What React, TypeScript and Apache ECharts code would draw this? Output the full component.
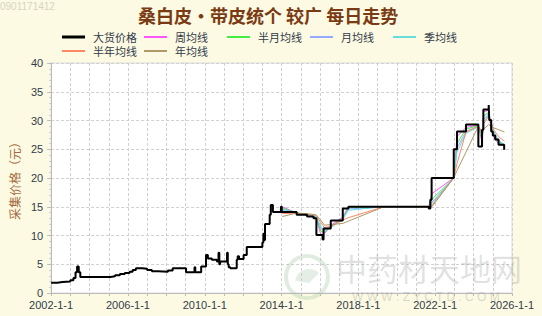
import React, { useEffect, useRef } from 'react';
import * as echarts from 'echarts';

// Spot price (大货价格), drawn as a step line
const priceDates = [
  '2002-01-01', '2002-05-01', '2002-08-01', '2003-01-01', '2003-03-01', '2003-04-10', '2003-05-10',
  '2003-06-10', '2003-07-10', '2005-02-01', '2005-05-01', '2005-08-01', '2005-11-01', '2006-02-01',
  '2006-04-01', '2006-06-01', '2006-10-01', '2007-01-01', '2007-04-01', '2007-08-01', '2008-02-01',
  '2008-05-01', '2009-01-10', '2009-06-20', '2009-07-05', '2009-10-25', '2010-01-25', '2010-03-01',
  '2010-05-15', '2010-08-20', '2010-09-20', '2010-10-05', '2010-10-20', '2011-03-01', '2011-03-15',
  '2011-04-01', '2011-05-01', '2011-09-01', '2011-09-20', '2011-10-15', '2012-01-10', '2012-03-10',
  '2013-01-01', '2013-01-20', '2013-02-05', '2013-02-20', '2013-05-20', '2013-06-10', '2013-07-20',
  '2013-12-20', '2014-01-05', '2014-10-15', '2015-05-01', '2015-09-01', '2015-10-25', '2016-02-20',
  '2016-03-10', '2016-07-25', '2017-03-10', '2017-06-25', '2021-09-01', '2021-10-01', '2021-10-25',
  '2022-12-20', '2023-02-20', '2023-08-10', '2024-04-01', '2024-06-10', '2024-07-05', '2024-10-15',
  '2024-10-25', '2024-12-01', '2025-01-01', '2025-02-15', '2025-04-20', '2025-08-05',
];
const priceValues = [
  1.8, 1.9, 2.0, 2.2, 2.6, 3.6, 4.6,
  3.6, 2.8, 2.9, 3.1, 3.3, 3.5, 3.7,
  4.0, 4.3, 4.2, 4.0, 3.8, 3.7, 3.9,
  4.3, 3.6, 4.5, 3.6, 4.6, 6.6, 6.0,
  5.8, 5.5, 7.0, 5.0, 5.5, 7.0, 5.0,
  4.5, 4.3, 5.8, 6.4, 5.9, 6.6, 8.0,
  8.8, 10.3, 9.2, 12.0, 13.6, 15.3, 14.1,
  15.0, 14.1, 13.6, 13.3, 13.0, 10.1, 9.3,
  11.2, 12.6, 14.7, 15.0, 14.7, 16.2, 20.0,
  25.0, 28.1, 29.3, 25.5, 28.4, 31.9, 32.7,
  30.1, 28.1, 27.4, 26.7, 25.8, 24.9,
];

// Moving averages, sampled on the recorded dates
const maDates = [
  '2014-01-15', '2014-10-15', '2015-05-01', '2015-10-20', '2016-01-20', '2016-03-25', '2016-08-01',
  '2017-03-10', '2017-06-25', '2019-05-01', '2021-09-01', '2021-11-01', '2022-12-20', '2023-02-20',
  '2023-08-10', '2024-04-01', '2024-06-15', '2024-07-10', '2024-10-15', '2024-11-20', '2025-01-25',
  '2025-04-20', '2025-08-10',
];
const weekAvg = [15.0, 13.9, 13.5, 13.0, 10.1, 10.3, 11.8, 13.2, 15.0, 15.0, 15.0, 17.3, 20.0, 27.2, 28.8, 29.2, 26.0, 31.5, 31.8, 29.0, 27.0, 26.0, 25.5];
const halfMonthAvg = [14.8, 13.9, 13.6, 13.1, 10.7, 10.5, 11.6, 13.0, 14.8, 15.0, 15.0, 16.3, 20.0, 26.0, 28.5, 29.1, 26.6, 30.8, 31.4, 29.5, 27.5, 26.2, 25.6];
const monthAvg = [14.6, 13.9, 13.6, 13.2, 11.2, 10.7, 11.5, 12.9, 14.6, 15.0, 15.0, 15.8, 20.0, 25.2, 28.1, 29.0, 27.0, 30.2, 31.2, 29.8, 27.8, 26.4, 25.7];
const quarterAvg = [14.4, 13.9, 13.6, 13.3, 11.6, 10.9, 11.4, 12.8, 14.4, 15.0, 15.0, 15.5, 20.0, 24.5, 27.8, 28.9, 27.3, 29.8, 31.0, 30.0, 28.0, 26.6, 25.8];
const halfYearAvg = [13.8, 13.9, 13.7, 13.5, 12.2, 11.4, 11.6, 12.7, 13.1, 15.0, 15.0, 15.2, 20.0, 22.5, 28.0, 29.0, 28.0, 29.4, 30.8, 29.8, 28.3, 27.2, 26.4];
const yearAvg = [13.3, 13.9, 13.8, 13.6, 12.6, 11.8, 11.9, 12.1, 12.5, 15.0, 15.0, 15.0, 20.0, 21.3, 24.5, 29.0, 27.5, 28.5, 29.3, 29.0, 28.7, 28.4, 28.0];

const seriesNames = ['大货价格', '周均线', '半月均线', '月均线', '季均线', '半年均线', '年均线'];
const seriesColors = ['#000000', '#ff55ff', '#44ee44', '#99a8ff', '#66dddd', '#ff8866', '#b09868'];

const ONE_YEAR = 365.25 * 24 * 3600 * 1000;
const FONT = "'Liberation Sans', 'Noto Sans CJK SC', sans-serif";
const CJK = "'Noto Sans CJK SC', sans-serif";

export default function App() {
  const ref = useRef<HTMLDivElement>(null);

  useEffect(() => {
    document.body.style.margin = '0';
    const chart = echarts.init(ref.current!, null, { renderer: 'svg' });

    const pair = (dates: string[], vals: number[]) => dates.map((d, i) => [d, vals[i]]);
    const maValues = [weekAvg, halfMonthAvg, monthAvg, quarterAvg, halfYearAvg, yearAvg];

    // Two legend rows on a fixed column grid
    const legendSlots: [number, number][] = [
      [62, 31], [144, 31], [227, 31], [310, 31], [393, 31], [62, 45], [144, 45],
    ];

    const legends = seriesNames.map((name, i) => ({
      data: [name],
      left: legendSlots[i][0],
      top: legendSlots[i][1],
      padding: 0,
      icon: 'rect',
      itemWidth: 23,
      itemHeight: i === 0 ? 3 : 2,
      itemGap: 0,
      itemStyle: { color: seriesColors[i] },
      textStyle: {
        fontSize: 11,
        lineHeight: 12,
        color: '#333b4c',
        fontFamily: CJK,
        padding: [0, 0, 0, 3],
      },
    }));

    const maSeries = maValues.map((vals, i) => ({
      name: seriesNames[i + 1],
      type: 'line',
      data: pair(maDates, vals),
      showSymbol: false,
      symbol: 'none',
      color: seriesColors[i + 1],
      lineStyle: { width: 1, color: seriesColors[i + 1] },
      z: 3,
    }));

    chart.setOption({
      animation: false,
      backgroundColor: '#fcfae2',
      textStyle: { fontFamily: FONT },
      title: {
        text: '桑白皮·带皮统个 较广 每日走势',
        left: 133,
        top: 1,
        textStyle: { fontSize: 18, fontWeight: 'bold', color: '#7a3b14', fontFamily: CJK },
      },
      legend: legends,
      grid: {
        left: 37,
        right: 30,
        top: 63,
        bottom: 23,
        show: true,
        backgroundColor: '#ffffff',
        borderColor: '#dddddd',
        borderWidth: 1,
      },
      xAxis: {
        type: 'time',
        min: '2002-01-01',
        max: '2026-01-01',
        minInterval: ONE_YEAR,
        maxInterval: ONE_YEAR,
        axisLine: { lineStyle: { color: '#bbbbbb' } },
        axisTick: { show: true, length: 3, lineStyle: { color: '#bbbbbb' } },
        axisLabel: {
          fontSize: 11,
          color: '#333b4c',
          margin: 6,
          showMinLabel: true,
          showMaxLabel: true,
          hideOverlap: false,
          formatter: (value: number) => {
            const y = new Date(value).getFullYear();
            return (y - 2002) % 4 === 0 ? `${y}-1-1` : '';
          },
        },
        splitLine: { show: true, lineStyle: { color: '#d0d0d0', type: [3, 2], width: 1 } },
      },
      yAxis: {
        type: 'value',
        min: 0,
        max: 40,
        interval: 5,
        name: '采集价格（元）',
        nameLocation: 'middle',
        nameGap: 27,
        nameTextStyle: { fontSize: 12, color: '#a36a3e', fontFamily: CJK },
        axisLine: { show: true, lineStyle: { color: '#bbbbbb' } },
        axisTick: { show: true, length: 4, lineStyle: { color: '#bbbbbb' } },
        minorTick: { show: true, splitNumber: 5, length: 2, lineStyle: { color: '#cccccc' } },
        axisLabel: { fontSize: 11, color: '#333b4c', margin: 8 },
        splitLine: { show: true, lineStyle: { color: '#d0d0d0', type: [3, 2], width: 1 } },
      },
      graphic: [
        {
          type: 'text',
          left: 0,
          top: 1,
          silent: true,
          style: { text: '0901171412', fontSize: 10, fill: '#d6d4c4', fontFamily: FONT },
        },
        {
          type: 'circle',
          silent: true,
          z: 1,
          shape: { cx: 307, cy: 277, r: 21 },
          style: { fill: 'none', stroke: 'rgba(170,200,170,0.35)', lineWidth: 4 },
        },
        {
          type: 'sector',
          silent: true,
          z: 1,
          shape: { cx: 309, cy: 283, r: 14, r0: 0, startAngle: Math.PI * 1.05, endAngle: Math.PI * 1.75 },
          style: { fill: 'rgba(170,200,170,0.3)' },
        },
        {
          type: 'text',
          silent: true,
          z: 1,
          left: 336,
          top: 252,
          style: { text: '中药材天地网', fontSize: 31, fill: 'rgba(150,150,150,0.28)', fontFamily: CJK },
        },
        {
          type: 'text',
          silent: true,
          z: 1,
          left: 352,
          top: 291,
          style: { text: 'W W W . Z Y C T D . C O M', fontSize: 12, fill: 'rgba(150,150,150,0.35)', fontFamily: FONT },
        },
      ],
      series: [
        ...maSeries,
        {
          name: seriesNames[0],
          type: 'line',
          step: 'end',
          data: pair(priceDates, priceValues),
          showSymbol: false,
          symbol: 'none',
          color: seriesColors[0],
          lineStyle: { width: 2, color: seriesColors[0] },
          z: 4,
        },
      ],
    });

    return () => chart.dispose();
  }, []);

  return <div ref={ref} style={{ width: 542, height: 316 }} />;
}
